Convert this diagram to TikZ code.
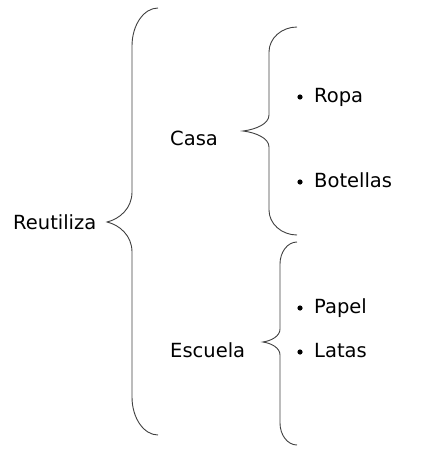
\documentclass[tikz,border=0pt]{standalone}
\usepackage{fontspec}
\setmainfont{DejaVu Sans}
\usepackage{tikz}
\definecolor{braceGray}{RGB}{64,64,64}

\begin{document}
\begin{tikzpicture}[x=1pt, y=-1pt, font=\fontsize{19.5}{22}\selectfont,
		lbl/.style={anchor=base west, inner sep=0pt},
		curly/.style={draw=braceGray, line width=0.9pt}]
				\useasboundingbox (0,0) rectangle (432,458);
				% Words
				\node[lbl] (reutiliza) at (13,229) {Reutiliza};
				\node[lbl] (casa) at (170,145) {Casa};
				\node[lbl] (escuela) at (170,357) {Escuela};
				% Bullet items
				\foreach \n/\t/\y in {ropa/Ropa/102, botellas/Botellas/187, papel/Papel/313, latas/Latas/357} {
					\node[lbl] (\n) at (314,\y) {\t};
					\fill ([xshift=-14pt, yshift=5pt]\n.base west) circle (2.6pt);
				}
				% Three braces
				\foreach \xe/\xv/\xt/\ya/\ym/\yb/\c/\d in {158/132/107/8/222/435/38/30, 297/269/243/27/131/235/25/16, 297/280/263/242/342/445/22/13} {
					\draw[curly] (\xe,\ya) .. controls (\xe-0.55*\xe+0.55*\xv,\ya) and (\xv,\ya+0.45*\c) .. (\xv,\ya+\c)
						-- (\xv,\ym-\d) .. controls (\xv,\ym-0.45*\d) and (0.5*\xt+0.5*\xv,\ym-0.1*\d) .. (\xt,\ym)
						.. controls (0.5*\xt+0.5*\xv,\ym+0.1*\d) and (\xv,\ym+0.45*\d) .. (\xv,\ym+\d)
						-- (\xv,\yb-\c) .. controls (\xv,\yb-0.45*\c) and (\xe-0.55*\xe+0.55*\xv,\yb) .. (\xe,\yb);
				}
			\end{tikzpicture}
\end{document}
